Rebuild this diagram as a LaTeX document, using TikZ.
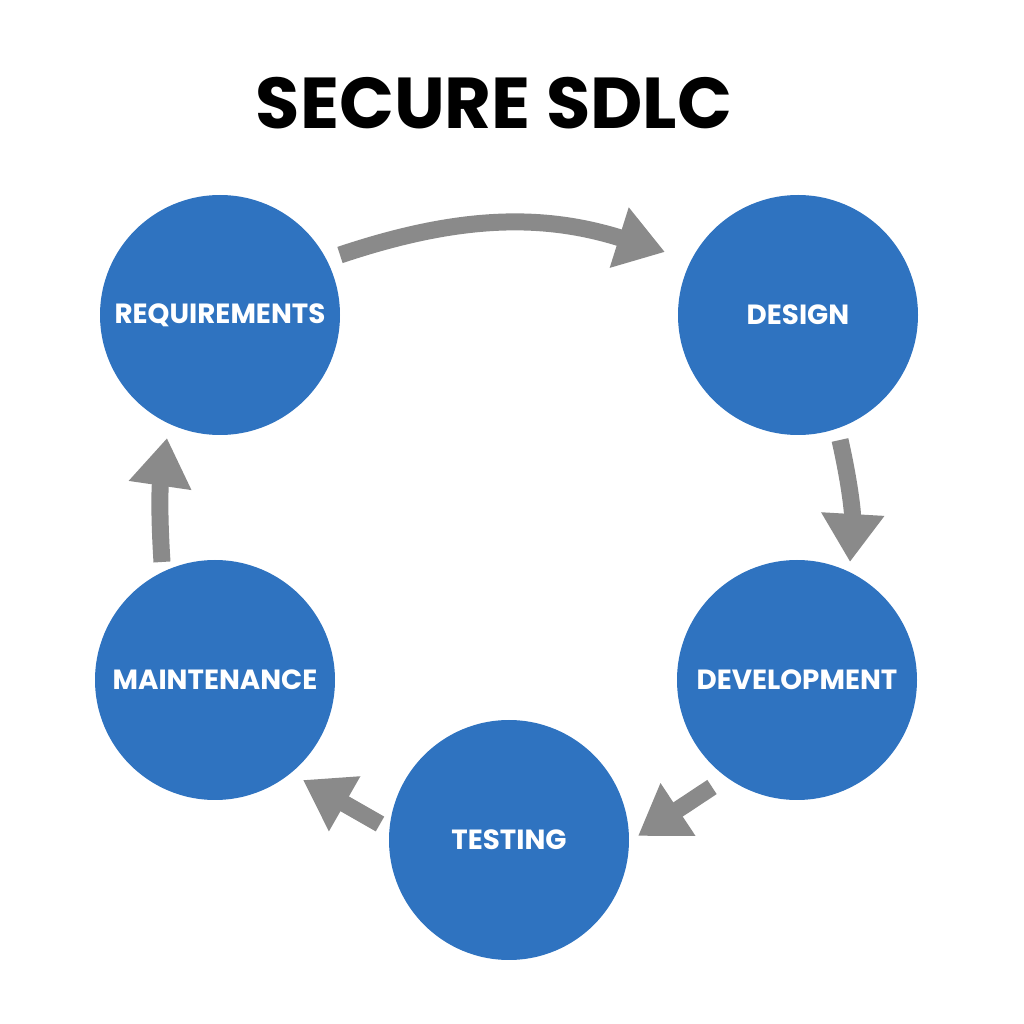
\documentclass[tikz,border=0pt]{standalone}
\usepackage{fontspec}
\setmainfont{Poppins}
\usetikzlibrary{arrows.meta}
\definecolor{nodeblue}{HTML}{2F73C0}
\definecolor{arrgray}{HTML}{8A8A8A}
\tikzset{
 phase/.style={circle,fill=nodeblue,minimum size=2.4cm,inner sep=0pt,text=white,font=\fontsize{7.9}{9}\selectfont\bfseries},
 flow/.style={draw=arrgray,line width=0.17cm,-{Triangle[width=0.6cm,length=0.48cm]}}
}
\begin{document}
\begin{tikzpicture}
\useasboundingbox (0,0) rectangle (10.24,10.24);
\node[font=\fontsize{20.5}{24}\selectfont\bfseries] (title) at (4.94,9.21) {SECURE SDLC};
\node[phase] (req) at (2.20,7.09) {REQUIREMENTS};
\node[phase] (des) at (7.98,7.09) {DESIGN};
\node[phase] (dev) at (7.97,3.44) {DEVELOPMENT};
\node[phase] (tst) at (5.09,1.84) {TESTING};
\node[phase] (mnt) at (2.15,3.44) {MAINTENANCE};
\coordinate (a1s) at (3.40,7.69); \coordinate (a1e) at (6.65,7.72);
\coordinate (a2s) at (8.40,5.84); \coordinate (a2e) at (8.50,4.62);
\coordinate (a3s) at (7.12,2.37); \coordinate (a3e) at (6.38,1.88);
\coordinate (a4s) at (3.80,2.00); \coordinate (a4e) at (3.03,2.44);
\coordinate (a5s) at (1.62,4.62); \coordinate (a5e) at (1.67,5.86);
\draw[flow] (a1s) to[bend left=18] (a1e);
\draw[flow] (a2s) to[bend left=8] (a2e);
\draw[flow] (a3s) -- (a3e);
\draw[flow] (a4s) -- (a4e);
\draw[flow] (a5s) to[bend left=6] (a5e);
\end{tikzpicture}
\end{document}
